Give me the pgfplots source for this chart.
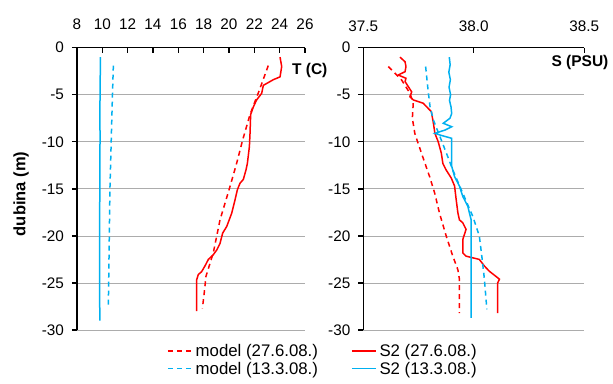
\documentclass[border=0pt]{standalone}
\usepackage{pgfplots}
\pgfplotsset{compat=1.18}
\usepackage{fontspec}
\setmainfont{Liberation Sans}
\definecolor{eblue}{RGB}{0,176,240}
\definecolor{ered}{RGB}{255,0,0}
\pgfplotsset{
  base/.style={scale only axis, height=282.3pt, ymin=-30, ymax=0, clip=false,
    /pgf/number format/assume math mode=true,
    tick label style={font=\fontsize{15.3}{17}\selectfont, black}},
  dataaxis/.style={base, axis x line=none, axis y line*=left,
    y axis line style={-, line width=1.3pt},
    tick align=outside, major tick length=5pt,
    major tick style={line width=1.3pt, black}, ytick={-30,-25,...,0},
    yticklabel style={xshift=-4.5pt},
    ymajorgrids, major grid style={line width=0.8pt, color=gray!65}},
  topaxis/.style={base, axis y line=none, axis x line*=top,
    x axis line style={-, line width=1.3pt}, tick align=inside,
    major tick length=5pt, major tick style={line width=1.3pt, black}},
  mod/.style={line width=1.5pt, dash pattern=on 5pt off 4pt},
  obs/.style={line width=1.5pt},
}
\begin{document}
\begin{tikzpicture}
\useasboundingbox (-77pt,-53pt) rectangle (536pt,330pt);
% ---------- left: temperature ----------
\begin{axis}[dataaxis, width=228pt, xmin=8, xmax=26,
  legend columns=2,
  legend cell align=left,
  legend image code/.code={\draw[#1] (0pt,0pt) -- (24pt,0pt);},
  legend style={at={(0.3947,-0.0425)}, anchor=north west, draw=none, fill=none,
    inner sep=0pt, font=\fontsize{16.8}{19}\selectfont,
    nodes={inner xsep=3pt, inner ysep=2pt},
    /tikz/every even column/.append style={column sep=30pt}}]
\addplot[ered, mod] coordinates {(23.1,-1.9) (22.4,-4.5) (21.66,-7.1) (21.08,-9.8) (20.6,-12.3) (20.08,-14.75) (19.29,-18.3) (18.76,-21.8) (18.18,-24.3) (18.05,-26) (17.9,-27.7)};
\addlegendentry{model (27.6.08.)}
\addplot[ered, obs] coordinates {(24.03,-1) (24.16,-2) (24.03,-3.1) (23.5,-3.4) (22.71,-4.0) (22.58,-4.85) (22.18,-5.55) (21.92,-6.3) (21.71,-7.1) (21.66,-9.1) (21.61,-10.5) (21.45,-12.3) (21.34,-13.0) (21.13,-14.0) (20.87,-14.4) (20.66,-15.1) (20.47,-16.2) (20.21,-17.6) (19.82,-19.0) (19.5,-19.7) (19.29,-20.8) (19.03,-21.5) (18.76,-22.0) (18.37,-22.5) (18.1,-23.2) (17.84,-23.8) (17.58,-24.1) (17.45,-24.65) (17.45,-28)};
\addlegendentry{S2 (27.6.08.)}
\addplot[eblue, mod] coordinates {(10.87,-1.9) (10.8,-5) (10.7,-10) (10.6,-15) (10.55,-20) (10.5,-25) (10.47,-27.7)};
\addlegendentry{model (13.3.08.)}
\addplot[eblue, obs] coordinates {(9.85,-1) (9.82,-5) (9.80,-8) (9.82,-9) (9.80,-15) (9.78,-22) (9.80,-29)};
\addlegendentry{S2 (13.3.08.)}
\node[anchor=west, font=\bfseries\fontsize{15.5}{18}\selectfont] at (rel axis cs:0.928,0.921) {T (C)};
\node[rotate=90, font=\bfseries\fontsize{16.5}{19}\selectfont] at (rel axis cs:-0.2456,0.482) {dubina (m)};
\end{axis}
\begin{axis}[topaxis, width=228pt, xmin=8, xmax=26, xtick={8,10,...,26},
  xticklabel style={yshift=14.5pt}]
\end{axis}
% ---------- right: salinity ----------
\begin{axis}[dataaxis, at={(286.3pt,0pt)}, width=221pt, xmin=37.5, xmax=38.5]
\addplot[ered, mod] coordinates {(37.613,-2.0) (37.651,-2.9) (37.674,-3.45) (37.711,-4.85) (37.726,-5.9) (37.722,-7.5) (37.733,-9.1) (37.763,-11.2) (37.8,-13.7) (37.823,-15.45) (37.845,-17.6) (37.875,-20) (37.905,-22.15) (37.928,-23.6) (37.935,-24.6) (37.935,-28.2)};
\addplot[ered, obs] coordinates {(37.666,-1.0) (37.689,-1.5) (37.693,-2.0) (37.689,-2.55) (37.658,-2.9) (37.693,-3.25) (37.689,-3.6) (37.704,-4.15) (37.719,-4.7) (37.711,-5.2) (37.726,-5.55) (37.771,-5.9) (37.808,-6.8) (37.817,-8.0) (37.824,-9.1) (37.839,-10.0) (37.853,-11.2) (37.86,-12.3) (37.875,-13.0) (37.898,-13.85) (37.913,-14.7) (37.92,-16.1) (37.928,-17.55) (37.935,-18.3) (37.95,-18.6) (37.965,-19.3) (37.95,-20.4) (37.95,-21.8) (37.965,-22.15) (38.025,-22.5) (38.048,-23.2) (38.07,-23.75) (38.1,-24.3) (38.116,-24.6) (38.108,-25) (38.108,-28.2)};
\addplot[eblue, mod] coordinates {(37.782,-2.0) (37.793,-4.5) (37.802,-6.27) (37.817,-7.68) (37.847,-9.46) (37.885,-11.75) (37.905,-13) (37.95,-15.45) (37.995,-17.9) (38.025,-20) (38.038,-22.5) (38.048,-24.6) (38.059,-27.8)};
\addplot[eblue, obs] coordinates {(37.889,-1) (37.893,-1.8) (37.887,-2.6) (37.894,-3.4) (37.888,-4.2) (37.895,-5.0) (37.89,-5.6) (37.897,-6.3) (37.9,-7.0) (37.892,-7.5) (37.862,-8.03) (37.9,-8.4) (37.87,-8.75) (37.824,-9.1) (37.847,-9.28) (37.9,-9.63) (37.9,-12.6) (37.913,-13.7) (37.935,-14.7) (37.95,-15.8) (37.973,-16.85) (37.98,-17.55) (37.988,-18.3) (37.988,-28.7)};
\node[anchor=east, font=\bfseries\fontsize{15.5}{18}\selectfont] at (rel axis cs:1.125,0.946) {S (PSU)};
\end{axis}
\begin{axis}[topaxis, at={(286.3pt,0pt)}, width=221pt, xmin=37.5, xmax=38.5,
  xtick={37.5,38,38.5},
  xticklabel style={yshift=13pt, /pgf/number format/fixed,
    /pgf/number format/fixed zerofill, /pgf/number format/precision=1}]
\end{axis}
\end{tikzpicture}
\end{document}
